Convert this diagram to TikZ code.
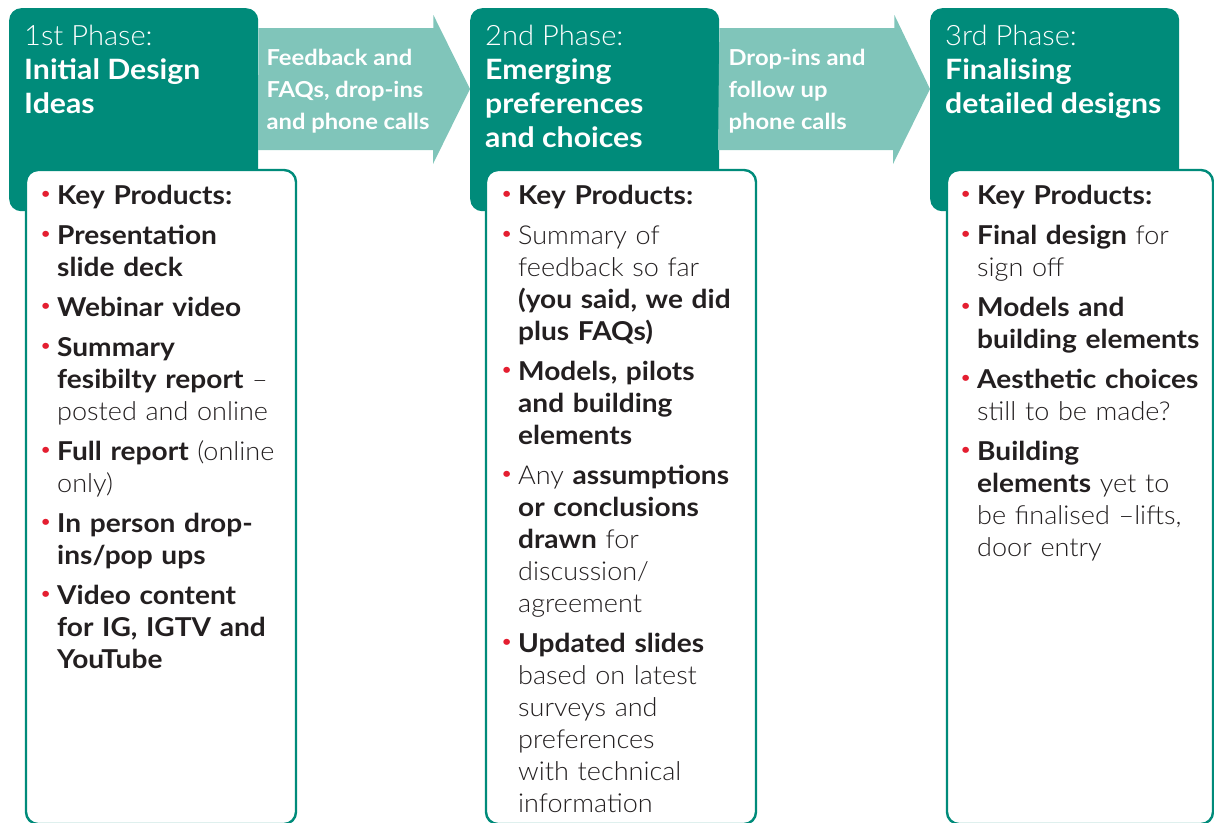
\documentclass[tikz,border=0pt]{standalone}
\usepackage{fontspec}
\setmainfont{Lato}[UprightFont=* Light, BoldFont=* Bold,
    UprightFeatures={FakeStretch=1.04}, BoldFeatures={FakeStretch=1.08}]
\usetikzlibrary{calc}

\definecolor{phasegreen}{RGB}{0,139,122}
\definecolor{flowgreen}{RGB}{128,197,186}
\definecolor{dotred}{RGB}{228,30,48}
\definecolor{ink}{RGB}{35,31,32}

% red list dot hanging left of the line
\newcommand{\itm}{\leavevmode\llap{\raisebox{6pt}{\fontsize{14}{14}\selectfont\bfseries\textcolor{dotred}{•}}\hspace{7pt}}}

\tikzset{
    phasebox/.style={fill=phasegreen, rounded corners=12pt, minimum width=249pt, minimum height=203pt, anchor=north west, inner sep=0pt},
    listbox/.style={draw=phasegreen, line width=2.4pt, fill=white, rounded corners=12pt},
    phasetitle/.style={anchor=north west, inner sep=0pt, text=white, align=left, font=\fontsize{28}{34}\selectfont},
    flowtext/.style={anchor=north west, inner sep=0pt, text=white, align=left, font=\bfseries\fontsize{22}{32}\selectfont},
    listtext/.style={anchor=north west, inner sep=0pt, text=ink, align=left, text width=236pt, font=\fontsize{26}{32}\selectfont}
}

\begin{document}
\begin{tikzpicture}[x=1pt, y=-1pt]
    \useasboundingbox (0,0) rectangle (1214,822);

    % phase heads
    \node[phasebox] (ph1) at (9,8) {};
    \node[phasebox] (ph2) at (470,8) {};
    \node[phasebox] (ph3) at (930,8) {};

    % block arrows between the heads
    \foreach \a/\b in {ph1/ph2, ph2/ph3}
        \fill[flowgreen] ([yshift=-20pt]\a.north east) -- ++(175,0) -- ++(0,-13)
            -- ([yshift=-81pt]\b.north west) -- ++(-37,75) -- ++(0,-14) -- ++(-175,0) -- cycle;

    \node[flowtext] (fb1) at ([xshift=8pt, yshift=-41pt]ph1.north east) {Feedback and\\FAQs, drop-ins\\and phone calls};
    \node[flowtext] (fb2) at ([xshift=9pt, yshift=-41pt]ph2.north east) {Drop-ins and\\follow up\\phone calls};

    \node[phasetitle] (t1) at ([xshift=15pt, yshift=-17pt]ph1.north west) {1st Phase:\\\textbf{Initial Design}\\\textbf{Ideas}};
    \node[phasetitle] (t2) at ([xshift=15pt, yshift=-17pt]ph2.north west) {2nd Phase:\\\textbf{Emerging}\\\textbf{preferences}\\\textbf{and choices}};
    \node[phasetitle] (t3) at ([xshift=15pt, yshift=-17pt]ph3.north west) {3rd Phase:\\\textbf{Finalising}\\\textbf{detailed designs}};

    % product lists
    \draw[listbox] (26,170) rectangle (296,824);
    \draw[listbox] (486,170) rectangle (756,824);
    \draw[listbox] (947,170) rectangle (1213,824);

    \node[listtext] (l1) at (57,185) {%
        \itm\textbf{Key Products:}\\[8pt]
        \itm\textbf{Presentation\\slide deck}\\[8pt]
        \itm\textbf{Webinar video}\\[8pt]
        \itm\textbf{Summary\\fesibilty report} –\\posted and online\\[8pt]
        \itm\textbf{Full report} (online\\only)\\[8pt]
        \itm\textbf{In person drop-\\ins/pop ups}\\[8pt]
        \itm\textbf{Video content\\for IG, IGTV and\\YouTube}};

    \node[listtext] (l2) at (518,185) {%
        \itm\textbf{Key Products:}\\[8pt]
        \itm Summary of\\feedback so far\\\textbf{(you said, we did\\plus FAQs)}\\[8pt]
        \itm\textbf{Models, pilots\\and building\\elements}\\[8pt]
        \itm Any \textbf{assumptions\\or conclusions\\drawn} for\\discussion/\\agreement\\[8pt]
        \itm\textbf{Updated slides}\\based on latest\\surveys and\\preferences\\with technical\\information};

    \node[listtext] (l3) at (977,185) {%
        \itm\textbf{Key Products:}\\[8pt]
        \itm\textbf{Final design} for\\sign off\\[8pt]
        \itm\textbf{Models and\\building elements}\\[8pt]
        \itm\textbf{Aesthetic choices}\\still to be made?\\[8pt]
        \itm\textbf{Building\\elements} yet to\\be finalised –lifts,\\door entry};
\end{tikzpicture}
\end{document}
